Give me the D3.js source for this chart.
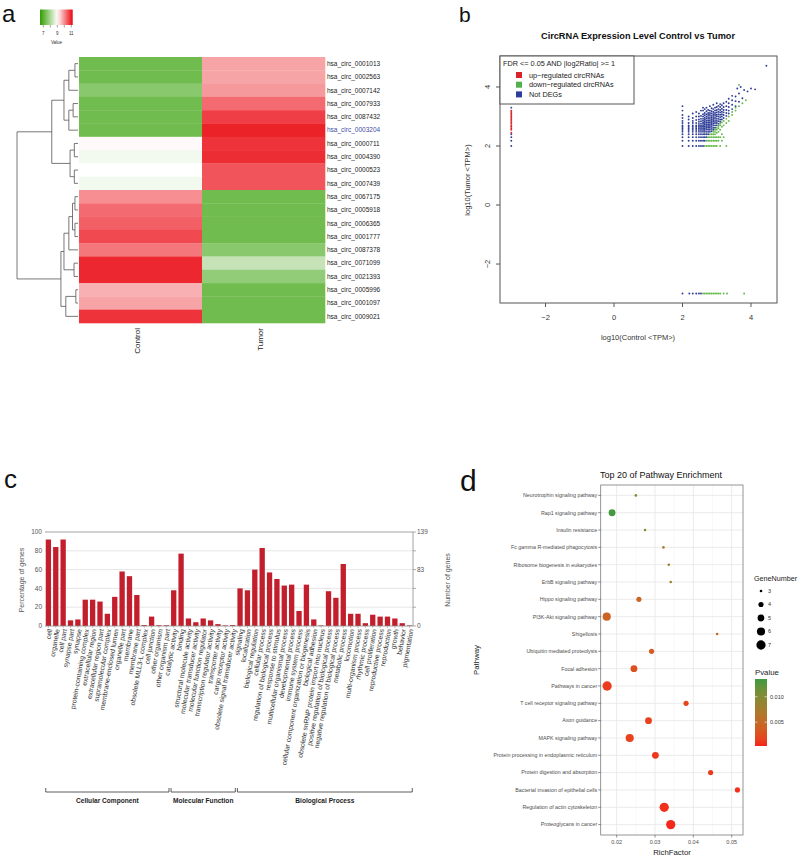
<!DOCTYPE html>
<html><head><meta charset="utf-8">
<script src="https://cdn.jsdelivr.net/npm/d3@7"></script>
<style>
body{margin:0;background:#fff}
svg{display:block}
text{font-family:"Liberation Sans",Arial,Helvetica,sans-serif}
</style>
</head><body>
<svg id="fig" width="800" height="857"></svg>
<script>
// ================= DATA =================
// --- panel a: heatmap ---
const heatRows = ["hsa_circ_0001013","hsa_circ_0002563","hsa_circ_0007142","hsa_circ_0007933","hsa_circ_0087432","hsa_circ_0003204","hsa_circ_0000711","hsa_circ_0004390","hsa_circ_0000523","hsa_circ_0007439","hsa_circ_0067175","hsa_circ_0005918","hsa_circ_0006365","hsa_circ_0001777","hsa_circ_0087378","hsa_circ_0071099","hsa_circ_0021393","hsa_circ_0005996","hsa_circ_0001097","hsa_circ_0009021"];
const heatColumns = ["Control","Tumor"];
const heatControl = [7.3,7.3,7.6,7.3,7.3,7.3,9.05,8.85,9.0,8.85,10.0,10.3,10.4,10.6,10.2,10.9,10.9,9.7,9.8,10.8];
const heatTumor   = [9.8,9.8,9.9,10.3,10.7,10.95,10.8,10.85,10.5,10.5,7.3,7.3,7.3,7.3,7.6,8.3,7.7,7.3,7.3,7.3];
const heatHighlight = "hsa_circ_0003204";
const heatLegendTicks = [7,8,9,10,11];
const heatLegendLabels = [7,9,11];
// dendrogram: h = merge height, leaf = row index
const dendro = {h:10, children:[
  {h:4.3, children:[
    {h:2.3, children:[
      {h:1.5, children:[{h:0.5, children:[{leaf:0},{leaf:1}]},{leaf:2}]},
      {h:1.5, children:[{h:0.8, children:[{leaf:3},{leaf:4}]},{leaf:5}]}
    ]},
    {h:1.3, children:[
      {h:0.6, children:[{leaf:6},{leaf:7}]},
      {h:0.6, children:[{leaf:8},{leaf:9}]}
    ]}
  ]},
  {h:2.8, children:[
    {h:2.3, children:[
      {h:1.5, children:[
        {h:0.9, children:[{h:0.5, children:[{leaf:10},{leaf:11}]},{h:0.5, children:[{leaf:12},{leaf:13}]}]},
        {leaf:14}
      ]},
      {h:0.65, children:[{leaf:15},{leaf:16}]}
    ]},
    {h:2.0, children:[{h:0.35, children:[{leaf:17},{leaf:18}]},{leaf:19}]}
  ]}
]};

// --- panel b: scatter ---
const scatterTitle = "CircRNA Expression Level Control vs Tumor";
const scatterXTicks = [-2,0,2,4];
const scatterYTicks = [-2,0,2,4];
const notDegColumns = [
 [2.00,[2.00,2.18,2.30,2.40,2.48,2.54,2.60,2.65,2.70,2.78,2.85,2.95,3.05,3.20,3.35]],
 [2.18,[2.00,2.18,2.30,2.40,2.48,2.54,2.60,2.65,2.70,2.78,2.90,3.00]],
 [2.30,[2.00,2.18,2.30,2.40,2.48,2.54,2.60,2.65,2.70,2.78,2.85,2.95,3.10]],
 [2.40,[2.00,2.18,2.30,2.40,2.48,2.54,2.60,2.65,2.70,2.78,2.88,3.00,3.15]],
 [2.48,[2.00,2.18,2.30,2.40,2.48,2.54,2.60,2.65,2.70,2.75,2.82,2.90,3.00,3.10]],
 [2.54,[2.00,2.18,2.30,2.40,2.48,2.54,2.60,2.65,2.70,2.76,2.84,2.92,3.02,3.20]],
 [2.60,[2.00,2.18,2.30,2.40,2.48,2.54,2.60,2.65,2.70,2.75,2.80,2.86,2.92,3.00,3.08,3.20,3.30]],
 [2.65,[2.18,2.30,2.40,2.48,2.54,2.60,2.66,2.72,2.78,2.84,2.90,2.96,3.04,3.12,3.25]],
 [2.70,[2.30,2.40,2.48,2.56,2.62,2.68,2.74,2.80,2.86,2.93,3.00,3.08,3.18,3.30]],
 [2.75,[2.40,2.48,2.55,2.62,2.68,2.74,2.80,2.86,2.92,2.98,3.05,3.12,3.22]],
 [2.80,[2.48,2.55,2.62,2.68,2.74,2.80,2.86,2.92,2.98,3.05,3.12,3.20,3.35]],
 [2.85,[2.50,2.58,2.65,2.72,2.78,2.84,2.90,2.96,3.02,3.10,3.18,3.28]],
 [2.90,[2.55,2.62,2.70,2.76,2.82,2.88,2.95,3.02,3.08,3.15,3.25,3.40]],
 [2.95,[2.62,2.70,2.78,2.85,2.92,2.98,3.05,3.12,3.20,3.30]],
 [3.00,[2.70,2.78,2.85,2.92,3.00,3.06,3.14,3.22,3.32,3.45]],
 [3.05,[2.75,2.84,2.92,3.00,3.08,3.16,3.25,3.36]],
 [3.10,[2.82,2.90,2.98,3.06,3.14,3.22,3.32,3.42]],
 [3.15,[2.90,3.00,3.08,3.16,3.26,3.38]],
 [3.20,[2.95,3.05,3.14,3.22,3.32,3.45]],
 [3.28,[3.02,3.12,3.22,3.35,3.50]],
 [3.35,[3.10,3.20,3.32,3.45,3.60]],
 [3.45,[3.25,3.40,3.55,3.70]],
 [3.55,[3.35,3.52,3.68]],
 [3.65,[3.50,3.78]]
];
const notDegExtra = [[3.75,3.62],[3.80,3.90],[3.90,3.85],[4.00,3.95],[4.12,3.92],[3.70,4.00],[3.60,3.95],[4.45,4.72],
 [2.00,-3.00],[2.20,-3.00],[2.30,-3.00],[2.40,-3.00],[2.48,-3.00],[2.54,-3.00],
 [-3.00,2.00],[-3.00,2.18],[-3.00,2.30],[-3.00,2.40],[-3.00,3.30]];
const downColumns = [
 [2.65,[2.00]],[2.70,[2.00,2.18]],[2.75,[2.00,2.18,2.30]],[2.80,[2.00,2.18,2.30,2.40]],
 [2.85,[2.00,2.18,2.30,2.40]],[2.90,[2.00,2.18,2.30,2.40,2.48]],[2.95,[2.00,2.18,2.30,2.40,2.48,2.55]],
 [3.00,[2.00,2.18,2.30,2.45,2.55,2.62]],[3.05,[2.18,2.30,2.48,2.60,2.68]],[3.10,[2.00,2.30,2.55,2.70,2.76]],
 [3.15,[2.18,2.40,2.65,2.80]],[3.20,[2.30,2.70,2.85]],[3.28,[2.00,2.78,2.92]],[3.35,[2.85,3.00]],
 [3.45,[3.05,3.15]],[3.55,[3.20,3.30]],[3.65,[3.35,4.07]],[3.75,[3.45]],[3.85,[3.55]]
];
const downFloorX = [2.60,2.65,2.70,2.75,2.80,2.85,2.90,2.95,3.00,3.05,3.10,3.20,3.30,3.80];
const upCeilingY = [2.45,2.55,2.60,2.65,2.70,2.75,2.80,2.85,2.90,2.95,3.00,3.05,3.10,3.15,3.20];
const scatterLegend = ["up\u2212regulated circRNAs","down\u2212regulated circRNAs","Not DEGs"];

// --- panel c: GO bar chart ---
const goCategories = ["cell","organelle","cell part","synapse part","synapse","protein-containing complex","extracellular region","extracellular region part","supramolecular complex","membrane-enclosed lumen","organelle part","membrane","membrane part","obsolete MLL3-L complex","cell junction","other organism","other organism part",
 "catalytic activity","binding","structural molecule activity","molecular transducer activity","molecular function regulator","transcription regulator activity","transporter activity","cargo receptor activity","obsolete signal transducer activity",
 "signaling","localization","biological regulation","cellular process","regulation of biological process","response to stimulus","multicellular organismal process","developmental process","immune system process","cellular component organization or biogenesis","biological adhesion","obsolete snRNP protein import into nucleus","positive regulation of biological process","negative regulation of biological process","metabolic process","locomotion","multi-organism process","rhythmic process","cell proliferation","reproductive process","reproduction","growth","behavior","pigmentation"];
const goPercent = [92,84,92,6,7,28,28,26,13,31,58,53,33,1,10,0.8,0.8,
 38,77,8,4,8,6,2,0.6,1,
 40,38,60,83,57,50,43,44,16,44,7,0.6,37,30,66,13,13,3,12,10,10,8,3,0.6];
const goGroups = [["Cellular Component",17],["Molecular Function",9],["Biological Process",24]];
const goLeftTicks = [0,20,40,60,80,100];
const goRightTicks = [0,83,139];
const goRightMax = 139;

// --- panel d: pathway enrichment ---
const pathways = ["Neurotrophin signaling pathway","Rap1 signaling pathway","Insulin resistance","Fc gamma R-mediated phagocytosis","Ribosome biogenesis in eukaryotes","ErbB signaling pathway","Hippo signaling pathway","PI3K-Akt signaling pathway","Shigellosis","Ubiquitin mediated proteolysis","Focal adhesion","Pathways in cancer","T cell receptor signaling pathway","Axon guidance","MAPK signaling pathway","Protein processing in endoplasmic reticulum","Protein digestion and absorption","Bacterial invasion of epithelial cells","Regulation of actin cytoskeleton","Proteoglycans in cancer"];
const pathRich  = [0.0250,0.0188,0.0274,0.0322,0.0336,0.0341,0.0258,0.0174,0.0462,0.0291,0.0245,0.0175,0.0381,0.0283,0.0234,0.0301,0.0445,0.0515,0.0324,0.0341];
const pathGenes = [3,5,3,3,3,3,4,6,3,4,5,7,4,5,6,5,4,4,7,7];
const pathP     = [0.0105,0.0133,0.0095,0.0075,0.0080,0.0085,0.0045,0.0042,0.0050,0.0035,0.0025,0.0012,0.0018,0.0015,0.0015,0.0010,0.0012,0.0008,0.0008,0.0005];
const richTicks = [0.02,0.03,0.04,0.05];
const richMinor = [0.025,0.035,0.045];
const geneLegend = [3,4,5,6,7];
const pLegendTicks = [0.010,0.005];

// ================= DRAW =================
const svg = d3.select("#fig");

function letter(t,x,y,size){
  svg.append("text").attr("x",x).attr("y",y).attr("font-size",size).attr("fill","#111").text(t);
}

// ---------- Panel a ----------
(function(){
  const g = svg.append("g");
  letter("a",2,22,24);
  const x = d3.scaleBand().domain(heatColumns).range([79,325]);
  const y = d3.scaleBand().domain(heatRows).range([57,323]);
  const color = d3.scaleLinear().domain([7,9,11]).range(["#58b030","#ffffff","#ec1c24"]);
  const cells = [];
  heatRows.forEach((r,i)=>{ cells.push({r,c:"Control",v:heatControl[i]}); cells.push({r,c:"Tumor",v:heatTumor[i]}); });
  g.selectAll("rect.cell").data(cells).join("rect")
    .attr("x",d=>x(d.c)).attr("y",d=>y(d.r))
    .attr("width",x.bandwidth()+0.3).attr("height",y.bandwidth()+0.3)
    .attr("fill",d=>color(d.v));
  g.selectAll("text.row").data(heatRows).join("text")
    .attr("x",327).attr("y",d=>y(d)+y.bandwidth()/2).attr("dy","0.35em")
    .attr("font-size",6.5).attr("fill",d=>d===heatHighlight?"#3b4ea6":"#222").text(d=>d);
  g.selectAll("text.col").data(heatColumns).join("text")
    .attr("transform",d=>`translate(${x(d)+x.bandwidth()/2-3},328) rotate(-90)`)
    .attr("dy","0.35em").attr("text-anchor","end").attr("font-size",8).attr("fill","#222").text(d=>d);

  // dendrogram
  const hx = d3.scaleLinear().domain([0,10]).range([78,17]);
  function lay(n){
    if(n.leaf!==undefined){ n.y = y(heatRows[n.leaf])+y.bandwidth()/2; n.hh=0; return; }
    n.children.forEach(lay);
    n.hh = n.h;
    n.y = (n.children[0].y + n.children[n.children.length-1].y)/2;
  }
  lay(dendro);
  const paths = [];
  (function walk(n){
    if(!n.children) return;
    const a=n.children[0], b=n.children[1];
    paths.push(`M${hx(a.hh)},${a.y}H${hx(n.hh)}V${b.y}H${hx(b.hh)}`);
    n.children.forEach(walk);
  })(dendro);
  g.selectAll("path.dend").data(paths).join("path").attr("d",d=>d)
    .attr("fill","none").attr("stroke","#555").attr("stroke-width",0.8);

  // legend
  const lx = d3.scaleLinear().domain([7,11]).range([43.3,71.3]);
  const defs = svg.append("defs");
  const grad = defs.append("linearGradient").attr("id","heatgrad");
  const x0 = lx.invert(40), x1 = lx.invert(72.7);
  d3.range(0,1.0001,0.1).forEach(t=>{
    grad.append("stop").attr("offset",t).attr("stop-color",color(x0+(x1-x0)*t));
  });
  g.append("rect").attr("x",40).attr("y",9.5).attr("width",32.7).attr("height",15.5).attr("fill","url(#heatgrad)");
  g.selectAll("line.lt").data(heatLegendTicks).join("line")
    .attr("x1",d=>lx(d)).attr("x2",d=>lx(d)).attr("y1",25).attr("y2",27.5).attr("stroke","#444").attr("stroke-width",0.5);
  g.selectAll("text.ll").data(heatLegendLabels).join("text")
    .attr("x",d=>lx(d)).attr("y",35).attr("text-anchor","middle").attr("font-size",4.5).attr("fill","#333").text(d=>d);
  g.append("text").attr("x",56.5).attr("y",44).attr("text-anchor","middle").attr("font-size",4.5).attr("fill","#333").text("Value");
})();

// ---------- Panel b ----------
(function(){
  const g = svg.append("g");
  letter("b",459,22,21);
  const L=500,R=777,T=56,B=303;
  const x = d3.scaleLinear().domain([-3.33,4.76]).range([L,R]);
  const y = d3.scaleLinear().domain([-3.32,5.05]).range([B,T]);
  g.append("text").attr("x",638).attr("y",39).attr("text-anchor","middle").attr("font-size",9.2).attr("font-weight","bold").attr("fill","#111").text(scatterTitle);

  const notPts = notDegColumns.flatMap(([cx,ys])=>ys.map(v=>[cx,v])).concat(notDegExtra);
  const downPts = downColumns.flatMap(([cx,ys])=>ys.map(v=>[cx,v])).concat(downFloorX.map(v=>[v,-3]));
  const upPts = upCeilingY.map(v=>[-3,v]);
  function pts(data,fill,cls){
    g.selectAll("circle."+cls).data(data).join("circle").attr("class",cls)
      .attr("cx",d=>x(d[0])).attr("cy",d=>y(d[1])).attr("r",0.95).attr("fill",fill);
  }
  pts(notPts,"#2e3d96","nd");
  pts(downPts,"#63b84a","dn");
  pts(upPts,"#d62728","up");

  g.append("rect").attr("x",L).attr("y",T).attr("width",R-L).attr("height",B-T).attr("fill","none").attr("stroke","#555").attr("stroke-width",1);
  g.selectAll("line.xt").data(scatterXTicks).join("line").attr("x1",d=>x(d)).attr("x2",d=>x(d)).attr("y1",B).attr("y2",B+4).attr("stroke","#555");
  g.selectAll("text.xt").data(scatterXTicks).join("text").attr("x",d=>x(d)).attr("y",320).attr("text-anchor","middle").attr("font-size",7.5).attr("fill","#333").text(d=>d<0?"\u2212"+(-d):d);
  g.selectAll("line.yt").data(scatterYTicks).join("line").attr("x1",L-4).attr("x2",L).attr("y1",d=>y(d)).attr("y2",d=>y(d)).attr("stroke","#555");
  g.selectAll("text.yt").data(scatterYTicks).join("text").attr("transform",d=>`translate(490,${y(d)}) rotate(-90)`).attr("text-anchor","middle").attr("font-size",7.5).attr("fill","#333").text(d=>d<0?"\u2212"+(-d):d);
  g.append("text").attr("x",638).attr("y",340).attr("text-anchor","middle").attr("font-size",7.5).attr("fill","#333").text("log10(Control <TPM>)");
  g.append("text").attr("transform","translate(470,180) rotate(-90)").attr("text-anchor","middle").attr("font-size",7.5).attr("fill","#333").text("log10(Tumor <TPM>)");

  // legend
  g.append("rect").attr("x",L).attr("y",T).attr("width",134).attr("height",48).attr("fill","#fff").attr("stroke","#555").attr("stroke-width",1);
  g.append("text").attr("x",503).attr("y",65.5).attr("font-size",7.3).attr("fill","#222").text("FDR <=  0.05  AND |log2Ratio| >=  1");
  const lc = ["#d8232a","#52b04a","#2d3e98"];
  scatterLegend.forEach((t,i)=>{
    g.append("rect").attr("x",516).attr("y",72+i*9.7).attr("width",6).attr("height",6).attr("fill",lc[i]);
    g.append("text").attr("x",529).attr("y",75+i*9.7).attr("dy","0.35em").attr("font-size",7.3).attr("fill","#222").text(t);
  });
})();

// ---------- Panel c ----------
(function(){
  const g = svg.append("g");
  letter("c",4,488,26);
  const L=45,R=413,T=532,B=626;
  const x = d3.scaleBand().domain(goCategories).range([L,R]).paddingInner(0.28).paddingOuter(0.1);
  const y = d3.scaleLinear().domain([0,100]).range([B,T]);
  const yr = d3.scaleLinear().domain([0,goRightMax]).range([B,T]);
  g.selectAll("line.grid").data(goLeftTicks.filter(d=>d>0&&d<100)).join("line")
    .attr("x1",L).attr("x2",R).attr("y1",d=>y(d)).attr("y2",d=>y(d)).attr("stroke","#dcdcdc").attr("stroke-width",0.7);
  g.append("line").attr("x1",L).attr("x2",R).attr("y1",T).attr("y2",T).attr("stroke","#8a8a8a").attr("stroke-width",0.8);
  g.append("line").attr("x1",R).attr("x2",R).attr("y1",T).attr("y2",B).attr("stroke","#8a8a8a").attr("stroke-width",0.8);
  g.selectAll("line.rt").data(goLeftTicks).join("line").attr("x1",R).attr("x2",R+3).attr("y1",d=>y(d)).attr("y2",d=>y(d)).attr("stroke","#8a8a8a").attr("stroke-width",0.7);
  g.selectAll("rect.bar").data(goCategories).join("rect")
    .attr("x",d=>x(d)).attr("width",x.bandwidth())
    .attr("y",(d,i)=>y(goPercent[i])).attr("height",(d,i)=>B-y(goPercent[i]))
    .attr("fill","#c31e2c");
  g.append("line").attr("x1",L).attr("x2",R).attr("y1",B).attr("y2",B).attr("stroke","#8a8a8a").attr("stroke-width",0.8);
  g.selectAll("line.bt").data(goCategories).join("line").attr("x1",d=>x(d)+x.bandwidth()/2).attr("x2",d=>x(d)+x.bandwidth()/2).attr("y1",B).attr("y2",B+2).attr("stroke","#8a8a8a").attr("stroke-width",0.5);
  g.selectAll("text.lt").data(goLeftTicks).join("text").attr("x",42).attr("y",d=>y(d)).attr("dy","0.35em").attr("text-anchor","end").attr("font-size",6.5).attr("fill","#555").text(d=>d);
  g.selectAll("text.rtl").data(goRightTicks).join("text").attr("x",417).attr("y",d=>yr(d)).attr("dy","0.35em").attr("font-size",6.5).attr("fill","#555").text(d=>d);
  g.append("text").attr("transform","translate(24,580) rotate(-90)").attr("text-anchor","middle").attr("font-size",7).attr("fill","#555").text("Percentage of genes");
  g.append("text").attr("transform","translate(450,580) rotate(-90)").attr("text-anchor","middle").attr("font-size",7).attr("fill","#555").text("Number of genes");
  g.selectAll("text.cat").data(goCategories).join("text")
    .attr("transform",d=>`translate(${x(d)+x.bandwidth()/2+1.5},629) rotate(-80)`)
    .attr("dy","0.35em").attr("text-anchor","end").attr("font-size",6.8).attr("fill","#333").text(d=>d);
  // group brackets
  let start=0;
  goGroups.forEach(([name,n])=>{
    const a = x(goCategories[start]), b = x(goCategories[start+n-1])+x.bandwidth();
    g.append("path").attr("d",`M${a},788V792H${b}V788`).attr("fill","none").attr("stroke","#333").attr("stroke-width",0.8);
    g.append("text").attr("x",(a+b)/2).attr("y",803).attr("text-anchor","middle").attr("font-size",6.6).attr("font-weight","bold").attr("fill","#222").text(name);
    start+=n;
  });
})();

// ---------- Panel d ----------
(function(){
  const g = svg.append("g");
  letter("d",460,491,30);
  const L=600.7,R=743,T=485,B=835;
  const x = d3.scaleLinear().domain([0.01583,0.05295]).range([L,R]);
  const y = d3.scalePoint().domain(pathways).range([T,B]).padding(0.6);
  const size = d3.scaleLinear().domain([3,7]).range([1.7,21.5]);
  const col = d3.scaleLinear().domain([0.0003,0.0135]).range(["#f5241b","#3c9a40"]).interpolate(d3.interpolateLab);
  g.append("text").attr("x",661).attr("y",478).attr("text-anchor","middle").attr("font-size",9).attr("fill","#111").text("Top 20 of Pathway Enrichment");
  g.append("rect").attr("x",L).attr("y",T).attr("width",R-L).attr("height",B-T).attr("fill","#fff");
  g.selectAll("line.mn").data(richMinor).join("line").attr("x1",d=>x(d)).attr("x2",d=>x(d)).attr("y1",T).attr("y2",B).attr("stroke","#f3f3f3").attr("stroke-width",0.6);
  g.selectAll("line.mj").data(richTicks).join("line").attr("x1",d=>x(d)).attr("x2",d=>x(d)).attr("y1",T).attr("y2",B).attr("stroke","#e6e6e6").attr("stroke-width",0.8);
  g.selectAll("line.hy").data(pathways).join("line").attr("x1",L).attr("x2",R).attr("y1",d=>y(d)).attr("y2",d=>y(d)).attr("stroke","#e6e6e6").attr("stroke-width",0.8);
  g.selectAll("circle.pt").data(pathways).join("circle")
    .attr("cx",(d,i)=>x(pathRich[i])).attr("cy",d=>y(d))
    .attr("r",(d,i)=>Math.sqrt(size(pathGenes[i])))
    .attr("fill",(d,i)=>col(pathP[i]));
  g.append("rect").attr("x",L).attr("y",T).attr("width",R-L).attr("height",B-T).attr("fill","none").attr("stroke","#7a7a7a").attr("stroke-width",0.8);
  g.selectAll("line.yt").data(pathways).join("line").attr("x1",L-2.5).attr("x2",L).attr("y1",d=>y(d)).attr("y2",d=>y(d)).attr("stroke","#444").attr("stroke-width",0.6);
  g.selectAll("text.yl").data(pathways).join("text").attr("x",L-3.5).attr("y",d=>y(d)).attr("dy","0.35em").attr("text-anchor","end").attr("font-size",5.3).attr("fill","#4d4d4d").text(d=>d);
  g.selectAll("line.xt").data(richTicks).join("line").attr("x1",d=>x(d)).attr("x2",d=>x(d)).attr("y1",B).attr("y2",B+2.5).attr("stroke","#444").attr("stroke-width",0.6);
  g.selectAll("text.xl").data(richTicks).join("text").attr("x",d=>x(d)).attr("y",844).attr("text-anchor","middle").attr("font-size",5.5).attr("fill","#4d4d4d").text(d=>d.toFixed(2));
  g.append("text").attr("x",672).attr("y",855).attr("text-anchor","middle").attr("font-size",7.8).attr("fill","#222").text("RichFactor");
  g.append("text").attr("transform","translate(479,660) rotate(-90)").attr("text-anchor","middle").attr("font-size",7.8).attr("fill","#222").text("Pathway");

  // size legend
  g.append("text").attr("x",754).attr("y",581).attr("font-size",7.2).attr("fill","#222").text("GeneNumber");
  geneLegend.forEach((v,i)=>{
    const cy = 591+i*13.5;
    g.append("circle").attr("cx",761).attr("cy",cy).attr("r",Math.sqrt(size(v))).attr("fill","#000");
    g.append("text").attr("x",768).attr("y",cy).attr("dy","0.35em").attr("font-size",5.5).attr("fill","#333").text(v);
  });
  // colour legend
  g.append("text").attr("x",755).attr("y",675).attr("font-size",7.8).attr("fill","#222").text("Pvalue");
  const ly = d3.scaleLinear().domain([0.0003,0.0135]).range([746,679]);
  const defs = svg.append("defs");
  const gr = defs.append("linearGradient").attr("id","pgrad").attr("x1",0).attr("y1",1).attr("x2",0).attr("y2",0);
  d3.range(0,1.0001,0.1).forEach(t=>gr.append("stop").attr("offset",t).attr("stop-color",col(0.0003+t*(0.0135-0.0003))));
  g.append("rect").attr("x",755).attr("y",679).attr("width",12).attr("height",67).attr("fill","url(#pgrad)");
  pLegendTicks.forEach(v=>{
    g.append("line").attr("x1",755).attr("x2",757.5).attr("y1",ly(v)).attr("y2",ly(v)).attr("stroke","#fff").attr("stroke-width",0.6);
    g.append("line").attr("x1",764.5).attr("x2",767).attr("y1",ly(v)).attr("y2",ly(v)).attr("stroke","#fff").attr("stroke-width",0.6);
    g.append("text").attr("x",770).attr("y",ly(v)).attr("dy","0.35em").attr("font-size",5.5).attr("fill","#333").text(v.toFixed(3));
  });
})();
</script>
</body></html>
